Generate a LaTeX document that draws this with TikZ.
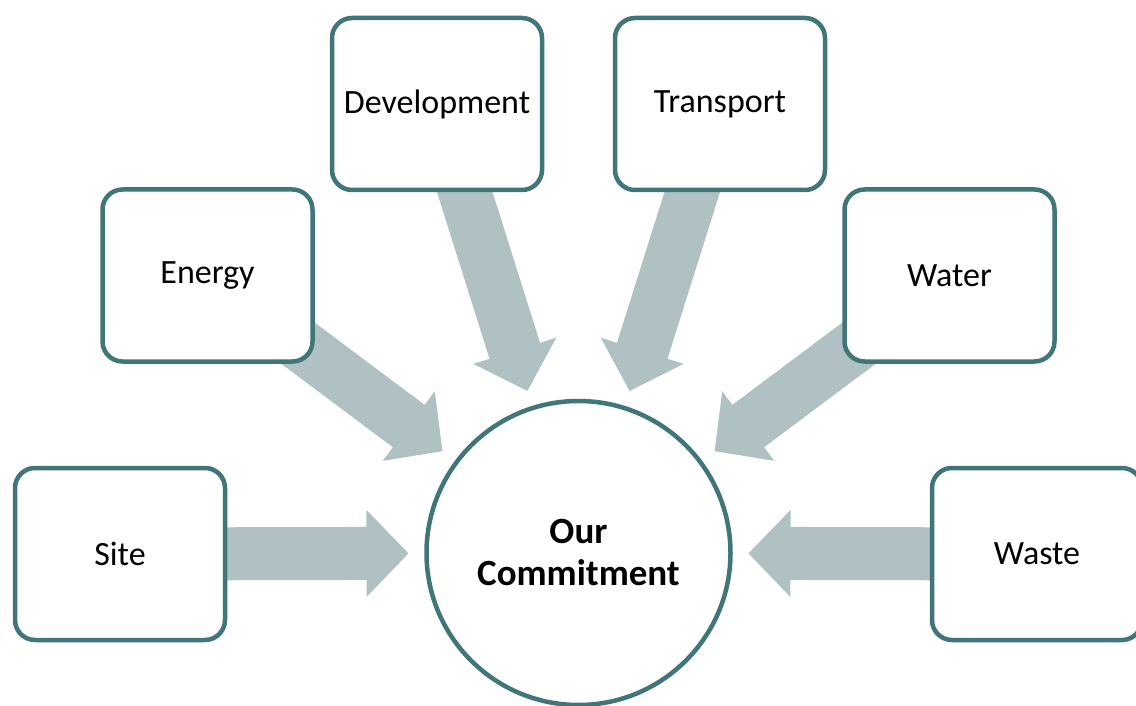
\documentclass[tikz,border=0pt]{standalone}
\usepackage{fontspec}
\setmainfont{Carlito}
\usetikzlibrary{calc,backgrounds}
\definecolor{rim}{RGB}{64,118,122}
\definecolor{flow}{RGB}{176,193,196}

% broad block arrow from the centre of #1 towards the centre of #2
\newcommand\blockarrow[2]{%
  \path ($(#2.center)!400pt!(#1.center)$) coordinate (tail)
        ($(#2.center)!212pt!(#1.center)$) coordinate (neck)
        ($(#2.center)!170pt!(#1.center)$) coordinate (tip);
  \fill[flow] ($(tail)!26.5pt!90:(#2.center)$) -- ($(neck)!26.5pt!90:(#2.center)$)
    -- ($(neck)!43.5pt!90:(#2.center)$) -- (tip)
    -- ($(neck)!43.5pt!-90:(#2.center)$) -- ($(neck)!26.5pt!-90:(#2.center)$)
    -- ($(tail)!26.5pt!-90:(#2.center)$) -- cycle;}

\begin{document}
\begin{tikzpicture}[x=1pt,y=-1pt,
  topic/.style={draw=rim, line width=4.5pt, fill=white, rounded corners=20pt,
    minimum width=210pt, minimum height=172pt, inner sep=0pt,
    font=\fontsize{34}{40}\selectfont},
  hub/.style={circle, draw=rim, line width=4.5pt, fill=white, minimum size=304pt,
    inner sep=0pt, align=center, font=\bfseries\fontsize{37}{42}\selectfont}]
\useasboundingbox (0,0) rectangle (1136,706);
\clip (0,0) rectangle (1136,706);

\node[hub] (core) at (578.5,553) {Our\\Commitment};
\node[topic] (site)   at (120,554)   {Site};
\node[topic] (energy) at (207.5,275.5) {Energy};
\node[topic] (devel)  at (437,104)   {Development};
\node[topic] (trans)  at (720,104)   {Transport};
\node[topic] (water)  at (949.5,275.5) {Water};
\node[topic] (waste)  at (1037,554)  {Waste};

\begin{scope}[on background layer]
  \fill[white] (0,0) rectangle (1136,706);
  \blockarrow{site}{core}
  \blockarrow{energy}{core}
  \blockarrow{devel}{core}
  \blockarrow{trans}{core}
  \blockarrow{water}{core}
  \blockarrow{waste}{core}
\end{scope}
\end{tikzpicture}
\end{document}
